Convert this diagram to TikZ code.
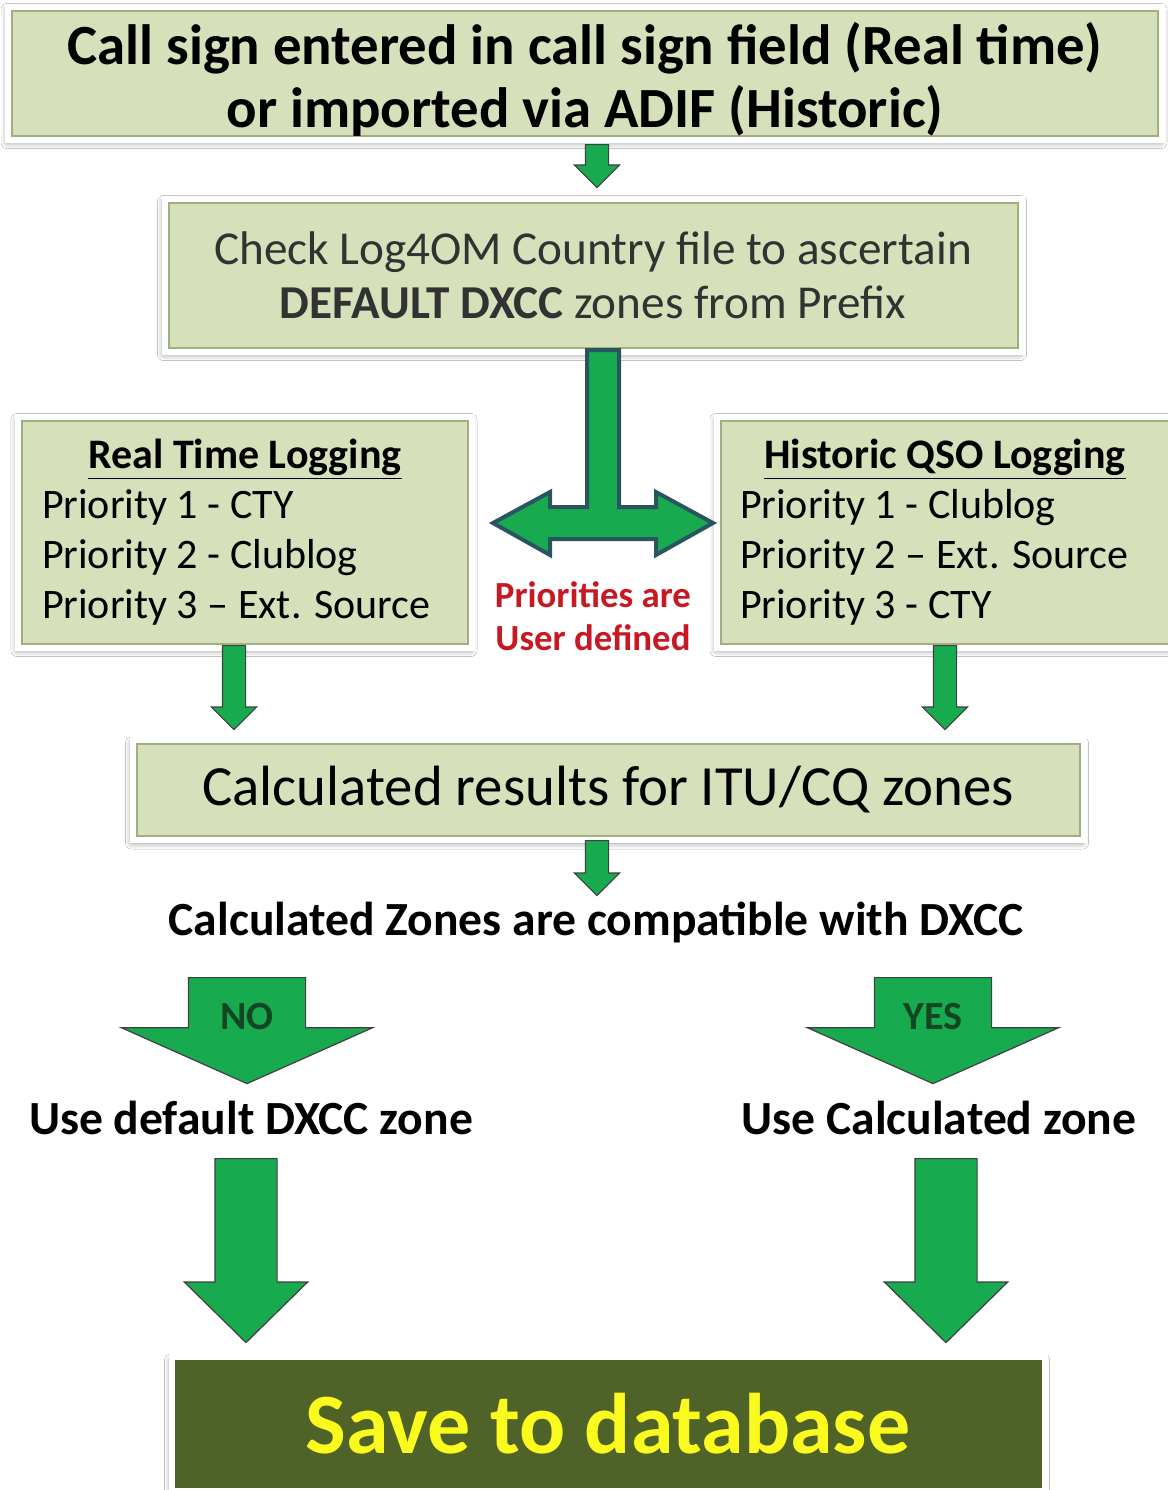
\documentclass[tikz,border=0pt]{standalone}
\usepackage{fontspec}
\setmainfont{Carlito}
\usetikzlibrary{shapes.arrows,shadows.blur,calc}
\definecolor{boxfill}{RGB}{214,224,186}
\definecolor{boxedge}{RGB}{160,175,125}
\definecolor{arrgreen}{RGB}{24,170,78}
\definecolor{teeedge}{RGB}{40,85,95}
\definecolor{userred}{RGB}{200,25,35}
\definecolor{olivebox}{RGB}{79,98,40}
\definecolor{saveyellow}{RGB}{250,250,30}
\definecolor{labgreen}{RGB}{20,70,35}
\definecolor{checkgray}{RGB}{50,50,50}
\tikzset{
  panel/.style={
    rectangle,
    draw=white, line width=3pt, % white rim round each box
    fill=boxfill, inner sep=0pt,
    path picture={\draw[boxedge, line width=5pt] (path picture bounding box.south west) rectangle (path picture bounding box.north east);},
    blur shadow={shadow xshift=-0.5pt, shadow yshift=-1.5pt, shadow blur radius=3pt, shadow opacity=45}
  },
  dnarrow/.style={
    single arrow, rotate=-90, anchor=tail, % points down, placed by its top
    draw=black!75, fill=arrgreen, inner xsep=0pt, line width=0.6pt
  },
  smallarrow/.style={dnarrow, inner ysep=5.5pt, single arrow head extend=5.5pt, single arrow tip angle=90},
  bigarrow/.style={dnarrow, inner ysep=15.25pt, single arrow head extend=15.25pt, single arrow tip angle=91},
  choicearrow/.style={dnarrow, inner ysep=29pt, single arrow head extend=33.5pt, single arrow tip angle=132},
  boldtext/.style={font=\fontsize{23.8}{28}\selectfont\bfseries},
  choicetext/.style={text=labgreen, font=\fontsize{20}{22}\selectfont\bfseries}
}

\begin{document}
\begin{tikzpicture}[x=0.5pt, y=-0.5pt]
  \useasboundingbox[fill=white] (0,0) rectangle (1168,1490);

  \node (start)[panel, minimum width=577pt, minimum height=66.5pt, align=center,
    font=\fontsize{28.4}{31.5}\selectfont\bfseries] at (585,73)
    {\\[-4pt]Call sign entered in call sign field (Real time)\\or imported via ADIF (Historic)};
  \node (check)[panel, minimum width=428.5pt, minimum height=76.5pt, align=center, text=checkgray,
    font=\fontsize{23.6}{27}\selectfont] at (593,275)
    {Check Log4OM Country file to ascertain\\\textbf{DEFAULT DXCC} zones from Prefix};

  \node (realtime)[panel, minimum width=227pt, minimum height=115.5pt, text width=203pt, align=flush left,
    font=\fontsize{21}{25}\selectfont] at (245,532)
    {\makebox[\textwidth]{\underline{\textbf{Real Time Logging}}}\\Priority 1 - CTY\\Priority 2 - Clublog\\Priority 3 -- Ext. Source};
  \node (historic)[panel, minimum width=228pt, minimum height=115.5pt, text width=205pt, align=flush left,
    font=\fontsize{21}{25}\selectfont] at (945,532)
    {\makebox[\textwidth]{\underline{\textbf{Historic QSO Logging}}}\\Priority 1 - Clublog\\Priority 2 -- Ext. Source\\Priority 3 - CTY};
  \node (userdef)[align=center, text=userred, font=\fontsize{18.4}{21.5}\selectfont\bfseries] at (593,616)
    {Priorities are\\User defined};

  \node (calc)[panel, minimum width=475.5pt, minimum height=50pt, font=\fontsize{28.4}{34}\selectfont] at (608,790)
    {Calculated results for ITU/CQ zones};
  \node (compat)[boldtext] at (596,922) {Calculated Zones are compatible with DXCC};

  \node (nozone)[boldtext] at (251,1118) {Use default DXCC zone};
  \node (yeszone)[boldtext] at (939,1118) {Use Calculated zone};

  \node (save)[panel, fill=olivebox, path picture={}, minimum width=436.5pt, minimum height=67pt,
    text=saveyellow, font=\fontsize{43}{48}\selectfont\bfseries] at (608,1424) {Save to database};

  % block arrows
  \node (a1)[smallarrow, minimum height=21.5pt] at (597,144) {};
  \node (a2)[smallarrow, minimum height=42pt] at (234,645) {};
  \node (a3)[smallarrow, minimum height=42pt] at (945,645) {};
  \node (a4)[smallarrow, minimum height=27.5pt] at (597,840) {};
  \node (noarr)[choicearrow, minimum height=53pt] at (247,977) {};
  \node (yesarr)[choicearrow, minimum height=53pt] at (933,977) {};
  \node[choicetext] at (247,1017) {NO};
  \node[choicetext] at (933,1017) {YES};
  \node (b1)[bigarrow, minimum height=92pt] at (246,1158) {};
  \node (b2)[bigarrow, minimum height=92pt] at (946,1158) {};

  % split arrow under the country file box
  \draw[teeedge, line width=2pt, fill=arrgreen, line join=miter]
    (587,350) -- (587,507) -- (550,507) -- (550,492) -- (493,523) -- (550,555)
    -- (550,539) -- (656,539) -- (656,555) -- (713,523) -- (656,492) -- (656,507)
    -- (619,507) -- (619,350) -- cycle;
\end{tikzpicture}
\end{document}
